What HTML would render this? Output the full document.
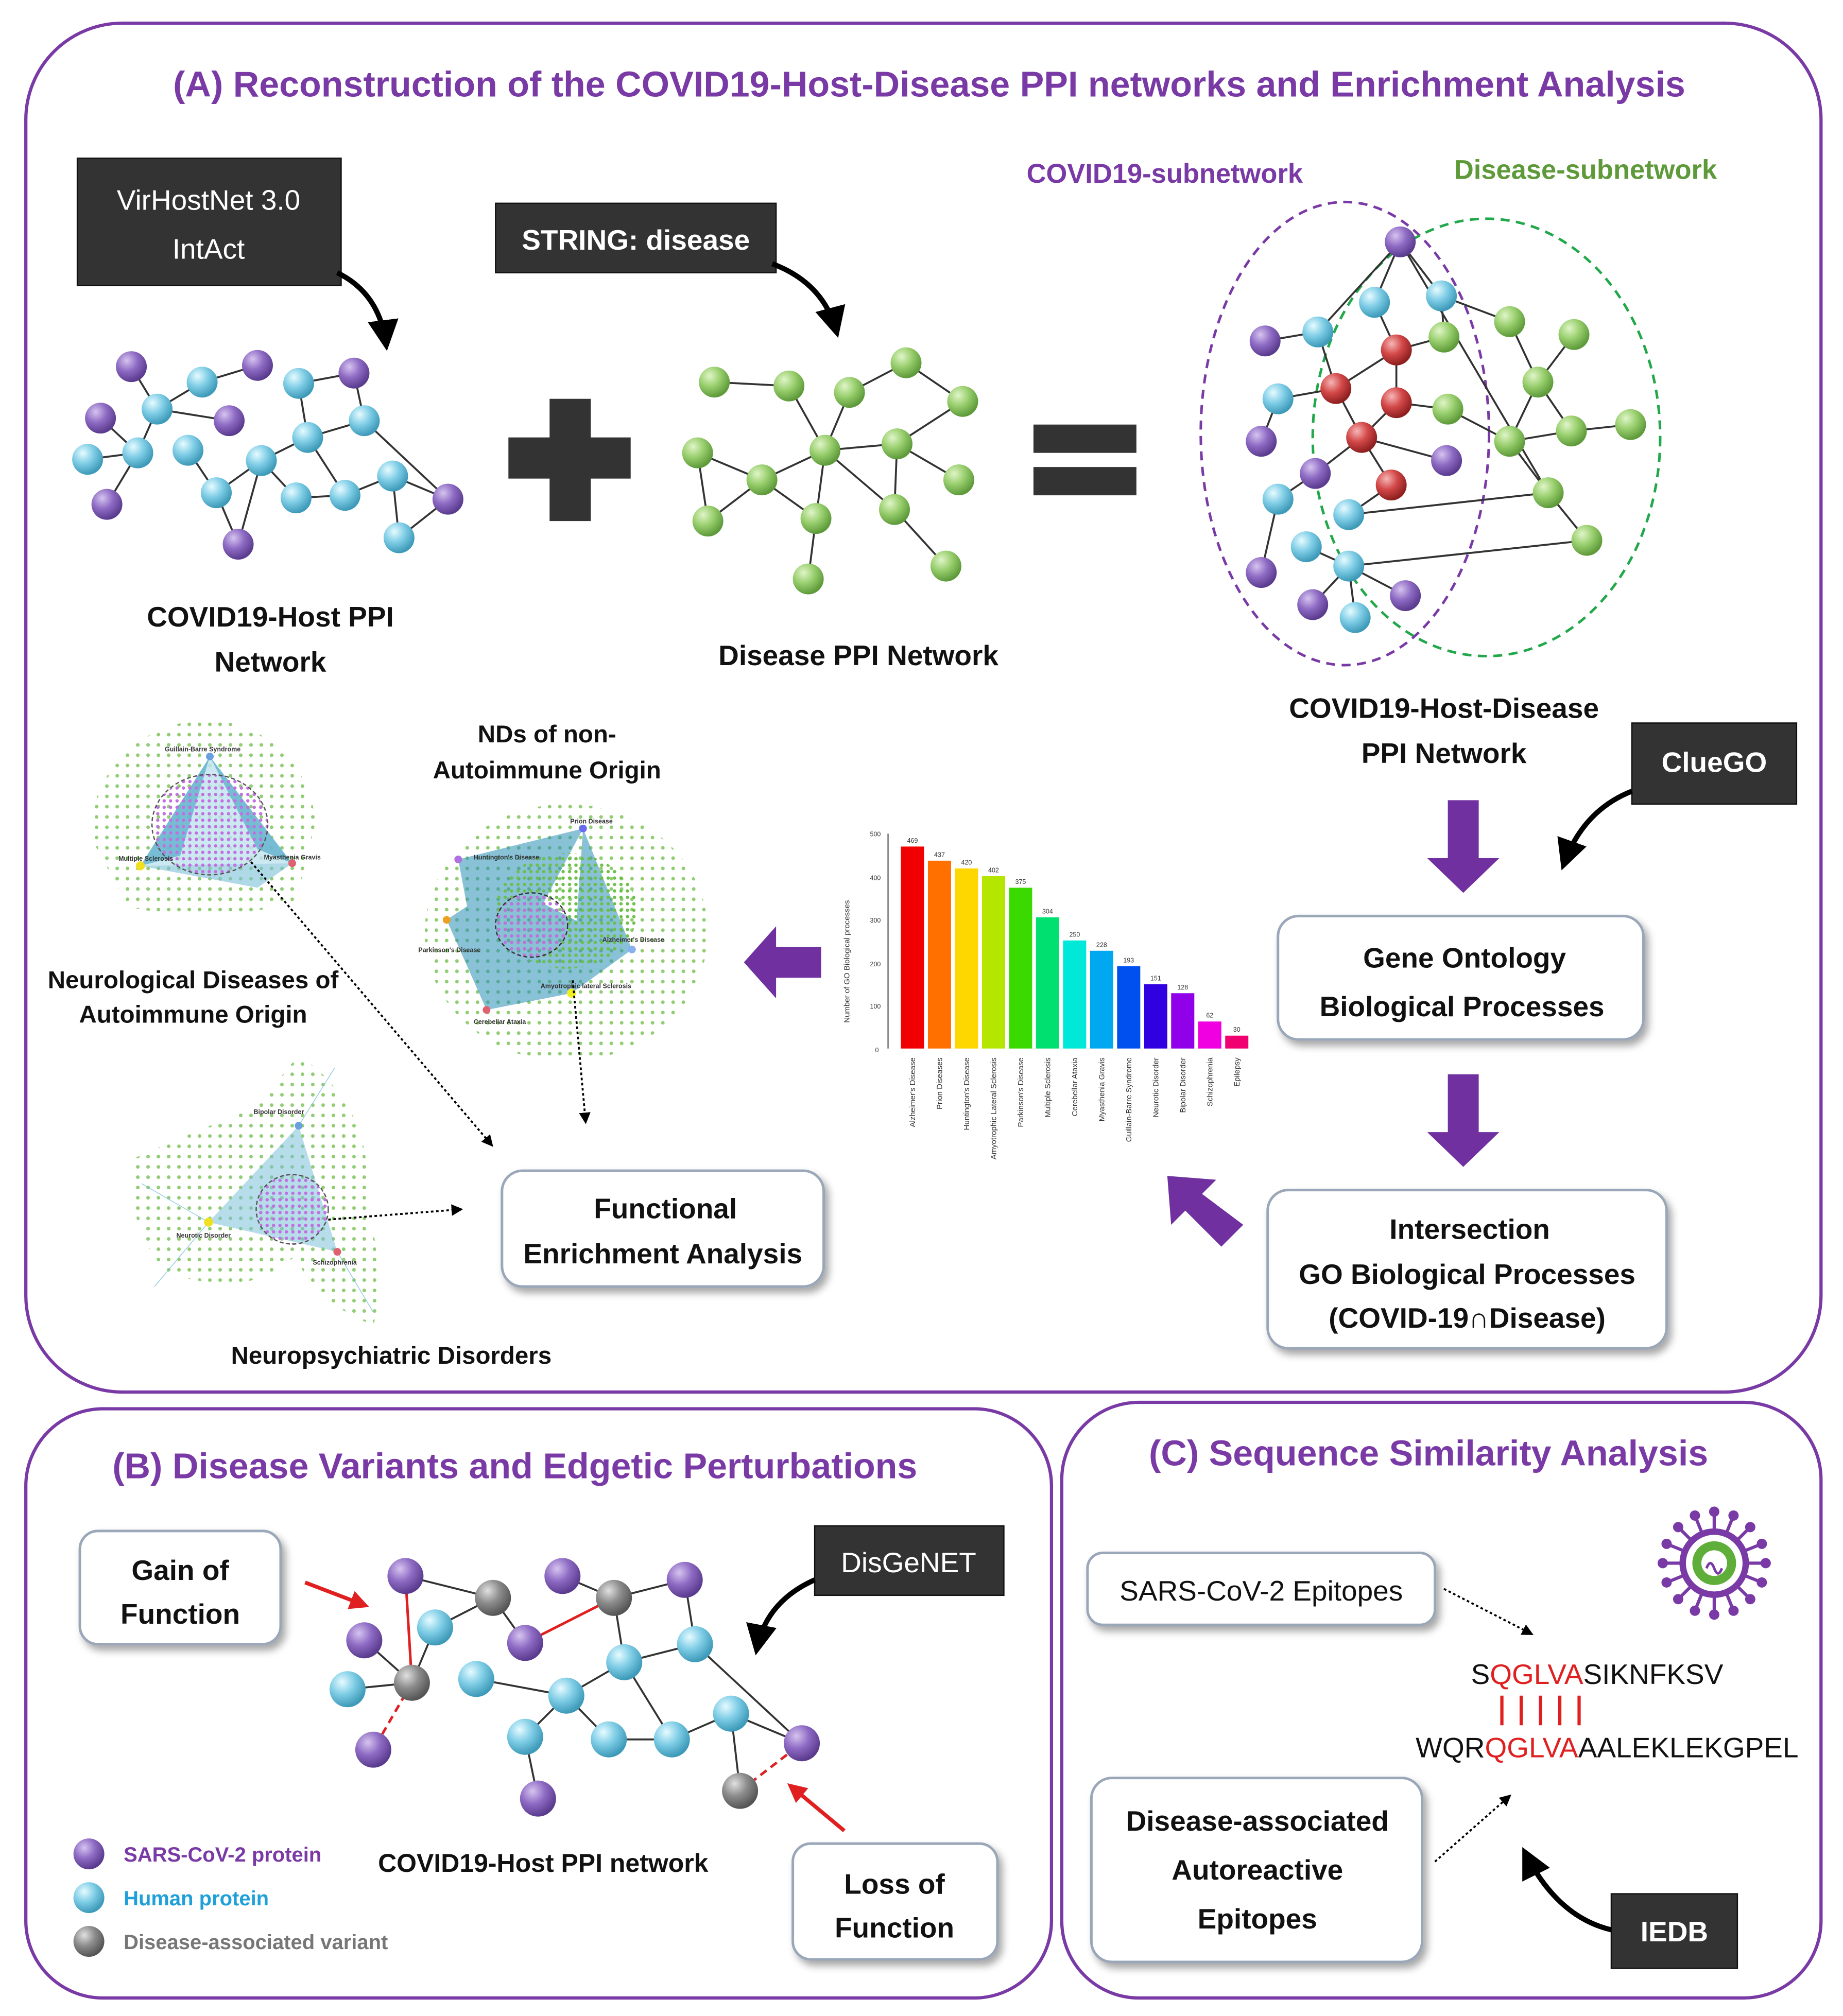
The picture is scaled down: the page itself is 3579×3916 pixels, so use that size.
<!DOCTYPE html>
<html><head><meta charset="utf-8"><style>
html,body{margin:0;padding:0;background:#fff}
svg{display:block}
text{font-family:"Liberation Sans",sans-serif}
</style></head><body>
<svg width="3579" height="3916" viewBox="0 0 1432 1567" xmlns="http://www.w3.org/2000/svg">
<defs>
<radialGradient id="gp" cx="35%" cy="30%" r="70%"><stop offset="0" stop-color="#d6c4ef"/><stop offset="0.5" stop-color="#8e6bc4"/><stop offset="1" stop-color="#5a3b8e"/></radialGradient>
<radialGradient id="gb" cx="35%" cy="30%" r="70%"><stop offset="0" stop-color="#e6fbff"/><stop offset="0.5" stop-color="#7fcde6"/><stop offset="1" stop-color="#3d9ab8"/></radialGradient>
<radialGradient id="gg" cx="35%" cy="30%" r="70%"><stop offset="0" stop-color="#e0f5c8"/><stop offset="0.5" stop-color="#99cf6e"/><stop offset="1" stop-color="#5e9a3a"/></radialGradient>
<radialGradient id="gr" cx="35%" cy="30%" r="70%"><stop offset="0" stop-color="#f6b6b6"/><stop offset="0.5" stop-color="#d34848"/><stop offset="1" stop-color="#8e1f1f"/></radialGradient>
<radialGradient id="gy" cx="35%" cy="30%" r="70%"><stop offset="0" stop-color="#e0e0e0"/><stop offset="0.5" stop-color="#8c8c8c"/><stop offset="1" stop-color="#555"/></radialGradient>
<pattern id="pg" width="8" height="8" patternUnits="userSpaceOnUse"><circle cx="3" cy="3" r="1.4" fill="#7cc45a"/></pattern>
<pattern id="pg2" width="5" height="5" patternUnits="userSpaceOnUse"><circle cx="2.5" cy="2.5" r="1.3" fill="#6cbf4a"/></pattern>
<pattern id="pp" width="5" height="5" patternUnits="userSpaceOnUse"><circle cx="2.5" cy="2.5" r="1.3" fill="#c070e0"/></pattern>
<filter id="sh" x="-10%" y="-10%" width="130%" height="140%"><feDropShadow dx="3" dy="4" stdDeviation="3" flood-color="#000" flood-opacity="0.35"/></filter>
<marker id="ah" viewBox="0 0 10 10" refX="8" refY="5" markerWidth="6" markerHeight="6" orient="auto"><path d="M0,0 L10,5 L0,10 z" fill="#000"/></marker>
<marker id="ahr" viewBox="0 0 10 10" refX="8" refY="5" markerWidth="5" markerHeight="5" orient="auto"><path d="M0,0 L10,5 L0,10 z" fill="#e02020"/></marker>
</defs>

<!-- Panels -->
<rect x="20" y="18" width="1395" height="1064" rx="75" fill="none" stroke="#7a3aa6" stroke-width="2.5"/>
<rect x="20" y="1095" width="797" height="458" rx="60" fill="none" stroke="#7a3aa6" stroke-width="2.5"/>
<rect x="825" y="1090" width="590" height="463" rx="60" fill="none" stroke="#7a3aa6" stroke-width="2.5"/>
<text x="722" y="75" font-size="28" font-weight="bold" fill="#7a3aa6" text-anchor="middle">(A) Reconstruction of the COVID19-Host-Disease PPI networks and Enrichment Analysis</text>
<text x="400" y="1149" font-size="28" font-weight="bold" fill="#7a3aa6" text-anchor="middle">(B) Disease Variants and Edgetic Perturbations</text>
<text x="1110" y="1139" font-size="28" font-weight="bold" fill="#7a3aa6" text-anchor="middle">(C) Sequence Similarity Analysis</text>

<!-- Black callouts -->
<g font-size="22" fill="#fff" text-anchor="middle">
<rect x="60" y="123" width="205" height="99" fill="#333" stroke="#111"/>
<text x="162" y="163">VirHostNet 3.0</text><text x="162" y="201">IntAct</text>
<rect x="385" y="158" width="218" height="54" fill="#333" stroke="#111"/>
<text x="494" y="194" font-weight="bold">STRING: disease</text>
<rect x="1268" y="562" width="128" height="63" fill="#333" stroke="#111"/>
<text x="1332" y="600" font-weight="bold">ClueGO</text>
<rect x="633" y="1186" width="147" height="54" fill="#333" stroke="#111"/>
<text x="706" y="1222">DisGeNET</text>
<rect x="1252" y="1472" width="98" height="58" fill="#333" stroke="#111"/>
<text x="1301" y="1509" font-weight="bold">IEDB</text>
</g>
<g fill="none" stroke="#000" stroke-width="4" marker-end="url(#ah)">
<path d="M262,212 Q295,228 300,268"/>
<path d="M600,205 Q640,220 650,258"/>
<path d="M1268,615 Q1230,630 1215,672"/>
<path d="M633,1228 Q595,1245 588,1282"/>
<path d="M1252,1500 Q1210,1490 1185,1440"/>
</g>

<!-- COVID host network -->
<g stroke="#333" stroke-width="1.5">
<line x1="102" y1="285" x2="122" y2="318"/><line x1="122" y1="318" x2="157" y2="297"/><line x1="157" y1="297" x2="200" y2="284"/>
<line x1="122" y1="318" x2="107" y2="352"/><line x1="78" y1="325" x2="107" y2="352"/><line x1="107" y1="352" x2="68" y2="357"/>
<line x1="107" y1="352" x2="83" y2="392"/><line x1="122" y1="318" x2="178" y2="327"/><line x1="146" y1="350" x2="168" y2="383"/>
<line x1="168" y1="383" x2="203" y2="358"/><line x1="203" y1="358" x2="239" y2="340"/><line x1="239" y1="340" x2="232" y2="298"/>
<line x1="232" y1="298" x2="275" y2="290"/><line x1="239" y1="340" x2="283" y2="327"/><line x1="283" y1="327" x2="348" y2="388"/>
<line x1="203" y1="358" x2="185" y2="423"/><line x1="203" y1="358" x2="230" y2="387"/><line x1="230" y1="387" x2="268" y2="385"/>
<line x1="268" y1="385" x2="305" y2="370"/><line x1="305" y1="370" x2="348" y2="388"/><line x1="305" y1="370" x2="310" y2="418"/>
<line x1="310" y1="418" x2="348" y2="388"/><line x1="275" y1="290" x2="283" y2="327"/><line x1="168" y1="383" x2="185" y2="423"/>
<line x1="239" y1="340" x2="268" y2="385"/>
</g>
<g fill="url(#gp)">
<circle cx="102" cy="285" r="12"/><circle cx="78" cy="325" r="12"/><circle cx="83" cy="392" r="12"/><circle cx="200" cy="284" r="12"/>
<circle cx="178" cy="327" r="12"/><circle cx="275" cy="290" r="12"/><circle cx="348" cy="388" r="12"/><circle cx="185" cy="423" r="12"/>
</g>
<g fill="url(#gb)">
<circle cx="122" cy="318" r="12"/><circle cx="157" cy="297" r="12"/><circle cx="107" cy="352" r="12"/><circle cx="68" cy="357" r="12"/>
<circle cx="146" cy="350" r="12"/><circle cx="232" cy="298" r="12"/><circle cx="283" cy="327" r="12"/><circle cx="239" cy="340" r="12"/>
<circle cx="203" cy="358" r="12"/><circle cx="168" cy="383" r="12"/><circle cx="230" cy="387" r="12"/><circle cx="268" cy="385" r="12"/>
<circle cx="305" cy="370" r="12"/><circle cx="310" cy="418" r="12"/>
</g>
<g font-size="22" font-weight="bold" fill="#111" text-anchor="middle">
<text x="210" y="487">COVID19-Host PPI</text><text x="210" y="522">Network</text>
<text x="667" y="517">Disease PPI Network</text>
<text x="1122" y="558">COVID19-Host-Disease</text><text x="1122" y="593">PPI Network</text>
</g>

<!-- plus / equals -->
<rect x="395" y="340" width="95" height="32" fill="#333"/><rect x="427" y="310" width="32" height="95" fill="#333"/>
<rect x="803" y="330" width="80" height="22" fill="#333"/><rect x="803" y="363" width="80" height="22" fill="#333"/>

<!-- disease network -->
<g stroke="#333" stroke-width="1.5">
<line x1="555" y1="297" x2="613" y2="300"/><line x1="613" y1="300" x2="641" y2="350"/><line x1="660" y1="305" x2="641" y2="350"/>
<line x1="660" y1="305" x2="704" y2="282"/><line x1="704" y1="282" x2="748" y2="312"/><line x1="748" y1="312" x2="697" y2="345"/>
<line x1="697" y1="345" x2="641" y2="350"/><line x1="641" y1="350" x2="592" y2="373"/><line x1="542" y1="352" x2="592" y2="373"/>
<line x1="542" y1="352" x2="550" y2="405"/><line x1="550" y1="405" x2="592" y2="373"/><line x1="592" y1="373" x2="634" y2="403"/>
<line x1="641" y1="350" x2="634" y2="403"/><line x1="634" y1="403" x2="628" y2="450"/><line x1="697" y1="345" x2="745" y2="373"/>
<line x1="697" y1="345" x2="695" y2="396"/><line x1="695" y1="396" x2="735" y2="440"/><line x1="641" y1="350" x2="695" y2="396"/>
</g>
<g fill="url(#gg)">
<circle cx="555" cy="297" r="12"/><circle cx="613" cy="300" r="12"/><circle cx="660" cy="305" r="12"/><circle cx="704" cy="282" r="12"/>
<circle cx="748" cy="312" r="12"/><circle cx="542" cy="352" r="12"/><circle cx="592" cy="373" r="12"/><circle cx="641" cy="350" r="12"/>
<circle cx="697" cy="345" r="12"/><circle cx="745" cy="373" r="12"/><circle cx="550" cy="405" r="12"/><circle cx="634" cy="403" r="12"/>
<circle cx="695" cy="396" r="12"/><circle cx="628" cy="450" r="12"/><circle cx="735" cy="440" r="12"/>
</g>

<!-- combined network -->
<text x="905" y="142" font-size="21" font-weight="bold" fill="#7a3aa6" text-anchor="middle">COVID19-subnetwork</text>
<text x="1232" y="139" font-size="21" font-weight="bold" fill="#5e9a3a" text-anchor="middle">Disease-subnetwork</text>
<ellipse cx="1045" cy="337" rx="112" ry="180" fill="none" stroke="#7a3aa6" stroke-width="2" stroke-dasharray="7,5"/>
<ellipse cx="1155" cy="340" rx="135" ry="170" fill="none" stroke="#22a84a" stroke-width="2" stroke-dasharray="7,5"/>
<g stroke="#333" stroke-width="1.5">
<line x1="1088" y1="188" x2="1068" y2="235"/><line x1="1088" y1="188" x2="1120" y2="230"/><line x1="1088" y1="188" x2="1024" y2="258"/>
<line x1="1088" y1="188" x2="1203" y2="383"/><line x1="1068" y1="235" x2="1085" y2="272"/><line x1="1120" y1="230" x2="1173" y2="250"/>
<line x1="1024" y1="258" x2="983" y2="265"/><line x1="1024" y1="258" x2="1038" y2="302"/><line x1="1038" y1="302" x2="993" y2="310"/>
<line x1="1038" y1="302" x2="1085" y2="272"/><line x1="1085" y1="272" x2="1085" y2="313"/><line x1="1085" y1="313" x2="1058" y2="340"/>
<line x1="1058" y1="340" x2="1038" y2="302"/><line x1="1058" y1="340" x2="1081" y2="377"/><line x1="1058" y1="340" x2="1022" y2="368"/>
<line x1="1085" y1="313" x2="1125" y2="318"/><line x1="1085" y1="272" x2="1122" y2="262"/><line x1="1125" y1="318" x2="1173" y2="343"/>
<line x1="1058" y1="340" x2="1124" y2="358"/><line x1="1173" y1="250" x2="1195" y2="297"/><line x1="1195" y1="297" x2="1223" y2="260"/>
<line x1="1195" y1="297" x2="1221" y2="335"/><line x1="1221" y1="335" x2="1267" y2="330"/><line x1="1173" y1="343" x2="1221" y2="335"/>
<line x1="1173" y1="343" x2="1195" y2="297"/><line x1="1173" y1="343" x2="1203" y2="383"/><line x1="1203" y1="383" x2="1233" y2="420"/>
<line x1="1048" y1="400" x2="1203" y2="383"/><line x1="1048" y1="440" x2="1233" y2="420"/><line x1="1022" y1="368" x2="993" y2="388"/>
<line x1="993" y1="388" x2="980" y2="445"/><line x1="1015" y1="425" x2="1048" y2="440"/><line x1="1048" y1="440" x2="1020" y2="470"/>
<line x1="1048" y1="440" x2="1053" y2="480"/><line x1="1048" y1="440" x2="1092" y2="463"/><line x1="1048" y1="400" x2="1081" y2="377"/>
<line x1="1122" y1="262" x2="1120" y2="230"/><line x1="993" y1="310" x2="980" y2="343"/>
</g>
<g fill="url(#gp)">
<circle cx="1088" cy="188" r="12"/><circle cx="983" cy="265" r="12"/><circle cx="980" cy="343" r="12"/><circle cx="1124" cy="358" r="12"/>
<circle cx="1022" cy="368" r="12"/><circle cx="980" cy="445" r="12"/><circle cx="1020" cy="470" r="12"/><circle cx="1092" cy="463" r="12"/>
</g>
<g fill="url(#gb)">
<circle cx="1068" cy="235" r="12"/><circle cx="1120" cy="230" r="12"/><circle cx="1024" cy="258" r="12"/><circle cx="993" cy="310" r="12"/>
<circle cx="993" cy="388" r="12"/><circle cx="1048" cy="400" r="12"/><circle cx="1015" cy="425" r="12"/><circle cx="1048" cy="440" r="12"/><circle cx="1053" cy="480" r="12"/>
</g>
<g fill="url(#gr)">
<circle cx="1085" cy="272" r="12"/><circle cx="1038" cy="302" r="12"/><circle cx="1085" cy="313" r="12"/><circle cx="1058" cy="340" r="12"/><circle cx="1081" cy="377" r="12"/>
</g>
<g fill="url(#gg)">
<circle cx="1122" cy="262" r="12"/><circle cx="1173" cy="250" r="12"/><circle cx="1223" cy="260" r="12"/><circle cx="1195" cy="297" r="12"/>
<circle cx="1125" cy="318" r="12"/><circle cx="1221" cy="335" r="12"/><circle cx="1267" cy="330" r="12"/><circle cx="1173" cy="343" r="12"/>
<circle cx="1203" cy="383" r="12"/><circle cx="1233" cy="420" r="12"/>
</g>

<!-- purple block arrows -->
<g fill="#7030a0">
<path d="M1125,622 h24 v45 h16 l-28,27 l-28,-27 h16 z"/>
<path d="M1125,835 h24 v45 h16 l-28,27 l-28,-27 h16 z"/>
<path d="M638,736 v24 h-35 v16 l-25,-28 l25,-28 v16 z"/>
<path d="M966,952 l-17,17 l-28,-28 l-11,11 l-3,-38 l38,3 l-11,11 z"/>
</g>

<!-- white boxes -->
<g fill="#fff" stroke="#9aa7b8" stroke-width="2" filter="url(#sh)">
<rect x="993" y="712" width="284" height="96" rx="16"/>
<rect x="985" y="925" width="310" height="123" rx="16"/>
<rect x="390" y="910" width="250" height="90" rx="16"/>
<rect x="62" y="1190" width="156" height="88" rx="14"/>
<rect x="616" y="1433" width="159" height="90" rx="14"/>
<rect x="845" y="1207" width="270" height="56" rx="12"/>
<rect x="848" y="1382" width="257" height="143" rx="16"/>
</g>
<g font-size="22" font-weight="bold" fill="#111" text-anchor="middle">
<text x="1138" y="752">Gene Ontology</text><text x="1136" y="790">Biological Processes</text>
<text x="1142" y="963">Intersection</text><text x="1140" y="998">GO Biological Processes</text><text x="1140" y="1032">(COVID-19∩Disease)</text>
<text x="517" y="947">Functional</text><text x="515" y="982">Enrichment Analysis</text>
<text x="140" y="1228">Gain of</text><text x="140" y="1262">Function</text>
<text x="695" y="1472">Loss of</text><text x="695" y="1506">Function</text>
<text x="980" y="1244" font-weight="normal">SARS-CoV-2 Epitopes</text>
<text x="977" y="1423">Disease-associated</text><text x="977" y="1461">Autoreactive</text><text x="977" y="1499">Epitopes</text>
</g>

<!-- bar chart -->
<g font-size="5" fill="#333">
<line x1="690" y1="648" x2="690" y2="815" stroke="#333" stroke-width="0.8"/>
<text x="676" y="650">500</text><text x="676" y="684">400</text><text x="676" y="717">300</text><text x="676" y="751">200</text><text x="676" y="784">100</text><text x="680" y="818">0</text>
<text transform="translate(660,795) rotate(-90)" font-size="6">Number of GO Biological processes</text>
</g>
<g>
<rect x="700" y="658" width="18" height="157" fill="#f00000"/>
<rect x="721" y="669" width="18" height="146" fill="#ff7000"/>
<rect x="742" y="675" width="18" height="140" fill="#ffd700"/>
<rect x="763" y="681" width="18" height="134" fill="#b4e600"/>
<rect x="784" y="690" width="18" height="125" fill="#3ad900"/>
<rect x="805" y="713" width="18" height="102" fill="#00e070"/>
<rect x="826" y="731" width="18" height="84" fill="#00e8d8"/>
<rect x="847" y="739" width="18" height="76" fill="#00a8f0"/>
<rect x="868" y="751" width="18" height="64" fill="#0050f0"/>
<rect x="889" y="765" width="18" height="50" fill="#3000e0"/>
<rect x="910" y="772" width="18" height="43" fill="#9000e8"/>
<rect x="931" y="794" width="18" height="21" fill="#f000e0"/>
<rect x="952" y="805" width="18" height="10" fill="#f00070"/>
</g>
<g font-size="5" fill="#333" text-anchor="middle">
<text x="709" y="655">469</text><text x="730" y="666">437</text><text x="751" y="672">420</text><text x="772" y="678">402</text><text x="793" y="687">375</text><text x="814" y="710">304</text><text x="835" y="728">250</text><text x="856" y="736">228</text><text x="877" y="748">193</text><text x="898" y="762">151</text><text x="919" y="769">128</text><text x="940" y="791">62</text><text x="961" y="802">30</text>
</g>
<g font-size="6" fill="#333" text-anchor="end">
<text transform="translate(711,822) rotate(-90)">Alzheimer's Disease</text>
<text transform="translate(732,822) rotate(-90)">Prion Diseases</text>
<text transform="translate(753,822) rotate(-90)">Huntington's Disease</text>
<text transform="translate(774,822) rotate(-90)">Amyotrophic Lateral Sclerosis</text>
<text transform="translate(795,822) rotate(-90)">Parkinson's Disease</text>
<text transform="translate(816,822) rotate(-90)">Multiple Sclerosis</text>
<text transform="translate(837,822) rotate(-90)">Cerebellar Ataxia</text>
<text transform="translate(858,822) rotate(-90)">Myasthenia Gravis</text>
<text transform="translate(879,822) rotate(-90)">Guillain-Barre Syndrome</text>
<text transform="translate(900,822) rotate(-90)">Neurotic Disorder</text>
<text transform="translate(921,822) rotate(-90)">Bipolar Disorder</text>
<text transform="translate(942,822) rotate(-90)">Schizophrenia</text>
<text transform="translate(963,822) rotate(-90)">Epilepsy</text>
</g>

<!-- autoimmune cluster -->
<g>
<path d="M163,560 A85,85 0 0 1 245,640 L230,700 Q170,720 100,705 L70,650 A90,90 0 0 1 163,560 Z" fill="url(#pg)" opacity="0.85"/>
<polygon points="163,588 109,673 227,671" fill="#bfe3ef" opacity="0.8"/>
<polygon points="163,588 109,673 140,665" fill="#3a9ec0" opacity="0.6"/>
<polygon points="163,588 227,671 200,660" fill="#3a9ec0" opacity="0.6"/>
<polygon points="109,673 227,671 200,690" fill="#7cc0d8" opacity="0.6"/>
<ellipse cx="163" cy="641" rx="45" ry="39" fill="url(#pp)" stroke="#555" stroke-dasharray="3,2" stroke-width="1"/>
<circle cx="109" cy="673" r="3.5" fill="#f0e020"/><circle cx="227" cy="671" r="3" fill="#e06070"/><circle cx="163" cy="588" r="3" fill="#6aa0e0"/>
<g font-size="5" fill="#333" font-weight="bold"><text x="128" y="584">Guillain-Barre Syndrome</text><text x="92" y="669">Multiple Sclerosis</text><text x="205" y="668">Myasthenia Gravis</text></g>
</g>
<!-- non-autoimmune cluster -->
<g>
<ellipse cx="440" cy="725" rx="110" ry="100" fill="url(#pg)" opacity="0.85"/>
<g fill="#2a8fb5" opacity="0.55">
<polygon points="356,668 491,738 444,772"/>
<polygon points="453,644 347,715 378,785"/>
<polygon points="453,644 491,738 444,772"/>
<polygon points="356,668 453,644 413,719"/>
<polygon points="347,715 491,738 413,719"/>
<polygon points="378,785 444,772 413,719"/>
<polygon points="356,668 378,785 413,719"/>
</g>
<ellipse cx="440" cy="708" rx="55" ry="45" fill="url(#pg2)"/>
<ellipse cx="413" cy="719" rx="28" ry="25" fill="url(#pp)" stroke="#333" stroke-dasharray="3,2" stroke-width="1"/>
<circle cx="453" cy="644" r="3" fill="#6a6af0"/><circle cx="356" cy="668" r="3" fill="#b070e0"/><circle cx="347" cy="715" r="3" fill="#f0a020"/>
<circle cx="491" cy="738" r="3" fill="#8ab0f0"/><circle cx="444" cy="772" r="3.5" fill="#f0f020"/><circle cx="378" cy="785" r="3" fill="#e06070"/>
<g font-size="5" fill="#333" font-weight="bold"><text x="368" y="668">Huntington's Disease</text><text x="443" y="640">Prion Disease</text><text x="325" y="740">Parkinson's Disease</text><text x="468" y="732">Alzheimer's Disease</text><text x="420" y="768">Amyotrophic lateral Sclerosis</text><text x="368" y="796">Cerebellar Ataxia</text></g>
</g>
<text x="425" y="577" font-size="19" font-weight="bold" fill="#111" text-anchor="middle">NDs of non-</text>
<text x="425" y="605" font-size="19" font-weight="bold" fill="#111" text-anchor="middle">Autoimmune Origin</text>
<text x="150" y="768" font-size="19" font-weight="bold" fill="#111" text-anchor="middle">Neurological Diseases of</text>
<text x="150" y="795" font-size="19" font-weight="bold" fill="#111" text-anchor="middle">Autoimmune Origin</text>
<!-- neuropsychiatric -->
<g>
<path d="M232,820 Q290,860 285,930 Q300,1000 290,1030 Q240,1010 230,975 Q200,1010 130,990 Q95,950 105,900 Q150,880 200,860 Z" fill="url(#pg)" opacity="0.85"/>
<g fill="#7cc0d8" opacity="0.55">
<polygon points="232,875 162,950 262,973"/>
</g>
<g stroke="#7cc0d8" stroke-width="0.6" opacity="0.8">
<line x1="162" y1="950" x2="110" y2="920"/><line x1="162" y1="950" x2="120" y2="1000"/><line x1="262" y1="973" x2="290" y2="1020"/><line x1="232" y1="875" x2="260" y2="830"/>
</g>
<ellipse cx="227" cy="940" rx="28" ry="27" fill="url(#pp)" stroke="#555" stroke-dasharray="3,2" stroke-width="1"/>
<circle cx="162" cy="950" r="3.5" fill="#f0e020"/><circle cx="262" cy="973" r="3" fill="#e06070"/><circle cx="232" cy="875" r="3" fill="#6aa0e0"/>
<g font-size="5" fill="#333" font-weight="bold"><text x="197" y="866">Bipolar Disorder</text><text x="137" y="962">Neurotic Disorder</text><text x="243" y="983">Schizophrenia</text></g>
</g>
<text x="304" y="1060" font-size="19" font-weight="bold" fill="#111" text-anchor="middle">Neuropsychiatric Disorders</text>
<g stroke="#000" stroke-width="1.5" stroke-dasharray="2,2" fill="none" marker-end="url(#ah)">
<line x1="195" y1="670" x2="382" y2="890"/>
<line x1="445" y1="762" x2="455" y2="872"/>
<line x1="255" y1="948" x2="358" y2="940"/>
<line x1="1122" y1="1235" x2="1190" y2="1270"/>
<line x1="1115" y1="1447" x2="1173" y2="1396"/>
</g>

<!-- Panel B network -->
<g stroke="#333" stroke-width="1.5">
<line x1="315" y1="1225" x2="383" y2="1242"/><line x1="383" y1="1242" x2="338" y2="1265"/><line x1="338" y1="1265" x2="320" y2="1308"/>
<line x1="283" y1="1275" x2="320" y2="1308"/><line x1="270" y1="1313" x2="320" y2="1308"/><line x1="383" y1="1242" x2="408" y2="1277"/>
<line x1="437" y1="1225" x2="477" y2="1242"/><line x1="477" y1="1242" x2="532" y2="1228"/><line x1="477" y1="1242" x2="485" y2="1292"/>
<line x1="532" y1="1228" x2="540" y2="1278"/><line x1="485" y1="1292" x2="440" y2="1318"/><line x1="440" y1="1318" x2="408" y2="1350"/>
<line x1="440" y1="1318" x2="370" y2="1305"/><line x1="408" y1="1350" x2="418" y2="1398"/><line x1="485" y1="1292" x2="522" y2="1352"/>
<line x1="440" y1="1318" x2="473" y2="1352"/><line x1="473" y1="1352" x2="522" y2="1352"/><line x1="522" y1="1352" x2="568" y2="1332"/>
<line x1="540" y1="1278" x2="623" y2="1355"/><line x1="568" y1="1332" x2="623" y2="1355"/><line x1="568" y1="1332" x2="575" y2="1392"/>
<line x1="485" y1="1292" x2="540" y2="1278"/>
</g>
<g stroke="#e02020" stroke-width="2">
<line x1="315" y1="1225" x2="320" y2="1308"/><line x1="408" y1="1277" x2="477" y2="1242"/>
<line x1="320" y1="1308" x2="290" y2="1360" stroke-dasharray="6,4"/><line x1="575" y1="1392" x2="623" y2="1355" stroke-dasharray="6,4"/>
<line x1="237" y1="1230" x2="284" y2="1248" marker-end="url(#ahr)" stroke-width="3"/>
<line x1="656" y1="1423" x2="614" y2="1388" marker-end="url(#ahr)" stroke-width="3"/>
</g>
<g fill="url(#gp)">
<circle cx="315" cy="1225" r="14"/><circle cx="437" cy="1225" r="14"/><circle cx="532" cy="1228" r="14"/><circle cx="283" cy="1275" r="14"/>
<circle cx="408" cy="1277" r="14"/><circle cx="290" cy="1360" r="14"/><circle cx="418" cy="1398" r="14"/><circle cx="623" cy="1355" r="14"/>
</g>
<g fill="url(#gy)">
<circle cx="383" cy="1242" r="14"/><circle cx="477" cy="1242" r="14"/><circle cx="320" cy="1308" r="14"/><circle cx="575" cy="1392" r="14"/>
</g>
<g fill="url(#gb)">
<circle cx="338" cy="1265" r="14"/><circle cx="270" cy="1313" r="14"/><circle cx="370" cy="1305" r="14"/><circle cx="440" cy="1318" r="14"/>
<circle cx="485" cy="1292" r="14"/><circle cx="540" cy="1278" r="14"/><circle cx="408" cy="1350" r="14"/><circle cx="473" cy="1352" r="14"/>
<circle cx="522" cy="1352" r="14"/><circle cx="568" cy="1332" r="14"/>
</g>
<text x="422" y="1455" font-size="20" font-weight="bold" fill="#111" text-anchor="middle">COVID19-Host PPI network</text>
<circle cx="69" cy="1441" r="12" fill="url(#gp)"/><circle cx="69" cy="1475" r="12" fill="url(#gb)"/><circle cx="69" cy="1509" r="12" fill="url(#gy)"/>
<g font-size="16" font-weight="bold">
<text x="96" y="1447" fill="#7a3aa6">SARS-CoV-2 protein</text>
<text x="96" y="1481" fill="#1fa0d8">Human protein</text>
<text x="96" y="1515" fill="#777">Disease-associated variant</text>
</g>

<!-- Panel C -->
<g transform="translate(1332,1215)">
<g stroke="#7a3aa6" stroke-width="2.5">
<line x1="0" y1="-40" x2="0" y2="40"/><line x1="-40" y1="0" x2="40" y2="0"/><line x1="-28" y1="-28" x2="28" y2="28"/><line x1="-28" y1="28" x2="28" y2="-28"/>
<line x1="-15" y1="-37" x2="15" y2="37"/><line x1="15" y1="-37" x2="-15" y2="37"/><line x1="-37" y1="-15" x2="37" y2="15"/><line x1="-37" y1="15" x2="37" y2="-15"/>
</g>
<g fill="#7a3aa6">
<circle cx="0" cy="-40" r="4"/><circle cx="0" cy="40" r="4"/><circle cx="-40" cy="0" r="4"/><circle cx="40" cy="0" r="4"/>
<circle cx="28" cy="28" r="4"/><circle cx="-28" cy="28" r="4"/><circle cx="28" cy="-28" r="4"/><circle cx="-28" cy="-28" r="4"/>
<circle cx="15" cy="37" r="4"/><circle cx="-15" cy="37" r="4"/><circle cx="15" cy="-37" r="4"/><circle cx="-15" cy="-37" r="4"/>
<circle cx="37" cy="15" r="4"/><circle cx="-37" cy="15" r="4"/><circle cx="37" cy="-15" r="4"/><circle cx="-37" cy="-15" r="4"/>
</g>
<circle r="27" fill="#7a3aa6"/><circle r="22" fill="#fff"/><circle r="17" fill="#5fae3a"/><circle r="10" fill="#fff"/>
<path d="M-6,4 q3,-8 6,0 t6,0" stroke="#7a3aa6" stroke-width="2" fill="none"/>
</g>
<g font-size="22" fill="#111">
<text x="1143" y="1309">S<tspan fill="#e02020">QGLVA</tspan>SIKNFKSV</text>
<text x="1100" y="1366">WQR<tspan fill="#e02020">QGLVA</tspan>AALEKLEKGPEL</text>
</g>
<g stroke="#e02020" stroke-width="2.5">
<line x1="1167" y1="1318" x2="1167" y2="1341"/><line x1="1182" y1="1318" x2="1182" y2="1341"/><line x1="1197" y1="1318" x2="1197" y2="1341"/><line x1="1212" y1="1318" x2="1212" y2="1341"/><line x1="1227" y1="1318" x2="1227" y2="1341"/>
</g>
</svg>
</body></html>
